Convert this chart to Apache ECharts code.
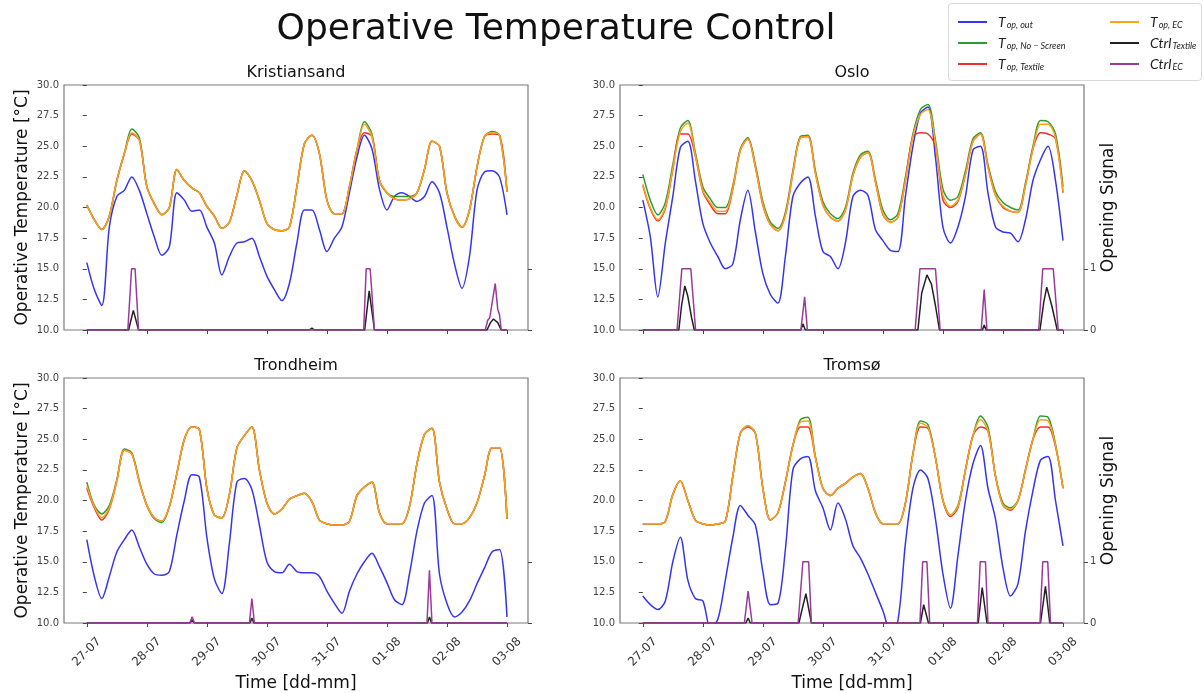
<!DOCTYPE html>
<html>
<head>
<meta charset="utf-8">
<title>Operative Temperature Control</title>
<script src="https://cdn.jsdelivr.net/npm/echarts@6/dist/echarts.min.js"></script>
<style>
	html, body { margin: 0; padding: 0; background: #fff; }
	#chart { width: 1204px; height: 693px; }
</style>
</head>
<body>
<div id="chart"></div>
<script>
// hours after 27-07 00:00, one sample every 3 h
const hours = [0, 3, 6, 9, 12, 15, 18, 21, 24, 27, 30, 33, 36, 39, 42, 45, 48, 51, 54, 57,
	60, 63, 66, 69, 72, 75, 78, 81, 84, 87, 90, 93, 96, 99, 102, 105, 108, 111, 114, 117,
	120, 123, 126, 129, 132, 135, 138, 141, 144, 147, 150, 153, 156, 159, 162, 165, 168];
const dayLabels = ['27-07', '28-07', '29-07', '30-07', '31-07', '01-08', '02-08', '03-08'];
const tempTicks = [10, 30, 2.5];
const signalTicks = [0, 1];

/********** Kristiansand **********/
const outK = [15.5, 13.3, 12.0, 18.4, 20.9, 21.4, 22.5, 21.4,
	19.5, 17.6, 16.1, 16.8, 21.2, 20.6, 19.7, 19.8,
	18.4, 17.1, 14.5, 16.0, 17.1, 17.2, 17.5, 16.0,
	14.4, 13.3, 12.4, 13.8, 17.1, 19.8, 19.8, 18.2,
	16.4, 17.5, 18.4, 21.2, 24.1, 25.9, 24.8, 21.5,
	19.8, 20.9, 21.2, 20.9, 20.5, 20.9, 22.1, 21.2,
	18.4, 15.4, 13.4, 16.0, 21.4, 22.9, 23.0, 22.5,
	19.4];
const noScreenK = [20.2, 19.0, 18.2, 19.3, 22.2, 24.4, 26.4, 25.7,
	21.7, 20.3, 19.4, 20.0, 23.1, 22.2, 21.6, 21.2,
	20.1, 19.3, 18.3, 18.8, 21.0, 23.0, 22.2, 20.6,
	18.7, 18.2, 18.1, 18.4, 21.7, 25.2, 25.9, 24.4,
	20.6, 19.5, 19.5, 21.7, 24.7, 27.0, 26.0, 22.2,
	21.2, 20.9, 20.9, 20.9, 21.2, 23.1, 25.4, 25.0,
	21.2, 19.3, 18.4, 19.8, 23.3, 25.8, 26.2, 25.9,
	21.3];
const textileK = [20.2, 19.0, 18.2, 19.3, 22.2, 24.4, 26.0, 25.5,
	21.7, 20.3, 19.4, 20.0, 23.1, 22.2, 21.6, 21.2,
	20.1, 19.3, 18.3, 18.8, 21.0, 23.0, 22.2, 20.6,
	18.7, 18.2, 18.1, 18.4, 21.7, 25.2, 25.9, 24.4,
	20.6, 19.5, 19.5, 21.7, 24.7, 26.1, 25.8, 22.2,
	21.2, 20.7, 20.6, 20.7, 21.2, 23.1, 25.4, 25.0,
	21.2, 19.3, 18.4, 19.8, 23.3, 25.8, 26.0, 25.9,
	21.3];
const ecK = [20.2, 19.0, 18.2, 19.3, 22.2, 24.4, 26.1, 25.5,
	21.7, 20.3, 19.4, 20.0, 23.1, 22.2, 21.6, 21.2,
	20.1, 19.3, 18.3, 18.8, 21.0, 23.0, 22.2, 20.6,
	18.7, 18.2, 18.1, 18.4, 21.7, 25.2, 25.9, 24.4,
	20.6, 19.5, 19.5, 21.7, 24.7, 26.8, 25.8, 22.2,
	21.2, 20.7, 20.6, 20.7, 21.2, 23.1, 25.4, 25.0,
	21.2, 19.3, 18.4, 19.8, 23.3, 25.8, 26.1, 25.9,
	21.3];
// [hour, signal]
const ctrlTextileK = [[0, 0], [16.7, 0], [18.6, 0.32], [20.7, 0], [89, 0], [90, 0.03], [91, 0],
	[111.1, 0], [112.9, 0.64], [115, 0], [160, 0], [161.4, 0.12], [162.6, 0.18], [164.3, 0.12], [165.7, 0], [168, 0]];
const ctrlEcK = [[0, 0], [16.4, 0], [17.9, 1], [19.3, 1], [20.7, 0], [110.7, 0], [111.7, 1], [113.3, 1], [115, 0],
	[159.3, 0], [160.3, 0.16], [161.1, 0.2], [163.3, 0.76], [164.3, 0.34], [165, 0.25], [165.7, 0], [168, 0]];

/********** Oslo **********/
const outO = [20.6, 17.6, 12.7, 17.1, 20.9, 24.9, 25.4, 22.2,
	18.7, 17.1, 16.0, 15.0, 15.4, 19.0, 21.4, 18.0,
	14.6, 12.9, 12.2, 16.0, 20.9, 22.0, 22.5, 19.3,
	16.4, 16.0, 15.0, 17.1, 20.9, 21.4, 21.0, 18.2,
	17.3, 16.5, 16.4, 20.9, 25.0, 27.7, 28.2, 24.1,
	18.4, 17.1, 18.4, 20.9, 24.7, 25.0, 21.2, 18.4,
	18.0, 17.9, 17.2, 19.0, 22.2, 23.9, 25.0, 22.2,
	17.3];
const noScreenO = [22.7, 20.6, 19.4, 20.4, 23.5, 26.5, 27.1, 24.5,
	21.7, 20.7, 20.0, 20.0, 21.8, 24.8, 25.7, 23.5,
	20.5, 18.8, 18.3, 19.6, 23.0, 25.8, 25.9, 23.0,
	20.5, 19.5, 19.1, 20.0, 22.8, 24.3, 24.6, 22.3,
	19.8, 19.0, 19.5, 22.5, 26.0, 28.0, 28.4, 25.5,
	21.5, 20.6, 20.9, 23.0, 25.6, 26.1, 23.5, 21.3,
	20.4, 20.0, 19.8, 22.0, 25.0, 27.1, 27.0, 26.0,
	21.7];
const textileO = [21.8, 19.9, 18.9, 19.9, 23.1, 26.0, 26.0, 24.2,
	21.3, 20.2, 19.5, 19.5, 21.5, 24.7, 25.6, 23.3,
	20.2, 18.6, 18.1, 19.4, 22.8, 25.7, 25.8, 22.8,
	20.2, 19.2, 18.9, 19.8, 22.6, 24.1, 24.5, 22.1,
	19.4, 18.8, 19.2, 22.2, 25.8, 26.1, 26.0, 25.0,
	20.6, 20.0, 20.5, 22.7, 25.4, 26.0, 23.3, 21.0,
	20.0, 19.7, 19.6, 21.8, 24.8, 26.1, 26.0, 25.6,
	21.2];
const ecO = [21.9, 20.0, 19.0, 20.0, 23.2, 26.2, 26.9, 24.3,
	21.4, 20.4, 19.7, 19.7, 21.6, 24.7, 25.6, 23.3,
	20.3, 18.6, 18.1, 19.4, 22.8, 25.7, 25.8, 22.8,
	20.2, 19.2, 18.9, 19.8, 22.6, 24.1, 24.5, 22.1,
	19.5, 18.8, 19.2, 22.2, 25.8, 27.6, 28.0, 25.2,
	21.0, 20.1, 20.6, 22.7, 25.4, 26.0, 23.3, 21.0,
	20.1, 19.7, 19.6, 21.8, 24.8, 26.8, 26.8, 25.7,
	21.3];
const ctrlTextileO = [[0, 0], [14.4, 0], [15.5, 0.4], [16.8, 0.72], [18, 0.55], [19.5, 0.2], [20.6, 0],
	[63.2, 0], [64, 0.1], [65, 0], [110, 0], [111.5, 0.6], [113.6, 0.9], [115.4, 0.75], [117, 0.4], [118.6, 0],
	[135.8, 0], [136.5, 0.08], [137.3, 0], [158.8, 0], [160.3, 0.45], [161.5, 0.7], [163.5, 0.4], [165.7, 0], [168, 0]];
const ctrlEcO = [[0, 0], [13.7, 0], [15.6, 1], [19.2, 1], [21.1, 0], [63.2, 0], [64.7, 0.54], [65.8, 0],
	[108.9, 0], [110.8, 1], [117, 1], [118.9, 0], [135.3, 0], [136.5, 0.66], [137.6, 0],
	[158.3, 0], [159.9, 1], [164.1, 1], [166.1, 0], [168, 0]];

/********** Trondheim **********/
const outT = [16.8, 13.8, 12.0, 13.8, 15.8, 16.8, 17.6, 16.2,
	14.8, 14.0, 13.9, 14.2, 17.2, 20.0, 22.1, 21.9,
	17.0, 13.6, 12.4, 16.5, 21.5, 21.8, 20.9, 18.0,
	15.0, 14.2, 14.1, 14.8, 14.2, 14.1, 14.1, 13.8,
	12.6, 11.6, 10.8, 12.6, 14.0, 15.0, 15.7, 14.6,
	13.3, 11.9, 11.5, 14.0, 17.5, 19.8, 20.4, 14.0,
	11.6, 10.5, 10.9, 11.8, 13.2, 14.5, 15.8, 16.0,
	10.5];
const noScreenT = [21.5, 19.6, 18.9, 19.6, 21.7, 24.2, 23.9, 21.6,
	19.6, 18.5, 18.2, 19.5, 22.2, 25.0, 26.0, 25.8,
	21.0, 18.8, 18.6, 20.5, 24.3, 25.3, 26.0, 22.5,
	19.8, 18.9, 19.3, 20.1, 20.4, 20.6, 19.9, 18.4,
	18.1, 18.0, 18.0, 18.3, 20.4, 21.1, 21.5, 19.0,
	18.1, 18.1, 18.1, 19.5, 23.0, 25.4, 25.9, 21.5,
	19.3, 18.1, 18.1, 18.6, 19.8, 22.0, 24.3, 24.3,
	18.5];
const textileT = [21.0, 19.4, 18.4, 19.3, 21.6, 24.1, 23.8, 21.5,
	19.6, 18.6, 18.3, 19.5, 22.2, 25.0, 26.0, 25.8,
	21.0, 18.8, 18.6, 20.5, 24.3, 25.3, 26.0, 22.5,
	19.8, 18.9, 19.3, 20.1, 20.4, 20.6, 19.9, 18.4,
	18.1, 18.0, 18.0, 18.3, 20.4, 21.1, 21.5, 19.0,
	18.1, 18.1, 18.1, 19.5, 23.0, 25.4, 25.9, 21.5,
	19.3, 18.1, 18.1, 18.6, 19.8, 22.0, 24.3, 24.3,
	18.5];
const ecT = [21.2, 19.5, 18.6, 19.4, 21.6, 24.1, 23.8, 21.5,
	19.6, 18.6, 18.3, 19.5, 22.2, 25.0, 26.0, 25.8,
	21.0, 18.8, 18.6, 20.5, 24.3, 25.3, 26.0, 22.5,
	19.8, 18.9, 19.3, 20.1, 20.4, 20.6, 19.9, 18.4,
	18.1, 18.0, 18.0, 18.3, 20.4, 21.1, 21.5, 19.0,
	18.1, 18.1, 18.1, 19.5, 23.0, 25.4, 25.9, 21.5,
	19.3, 18.1, 18.1, 18.6, 19.8, 22.0, 24.3, 24.3,
	18.5];
const ctrlTextileT = [[0, 0], [41.2, 0], [42.1, 0.05], [43, 0], [65.2, 0], [66, 0.08], [66.8, 0],
	[136.2, 0], [137, 0.1], [137.8, 0], [168, 0]];
const ctrlEcT = [[0, 0], [41.2, 0], [42.1, 0.1], [43, 0], [65, 0], [66, 0.4], [67, 0],
	[136, 0], [137, 0.86], [138, 0], [168, 0]];

/********** Tromsø **********/
const outTr = [12.2, 11.5, 11.1, 11.8, 15.0, 17.0, 13.5, 12.0,
	11.8, 9.6, 10.3, 13.5, 17.0, 19.6, 18.8, 18.0,
	14.2, 11.5, 11.6, 16.0, 22.5, 23.4, 23.6, 20.8,
	19.4, 17.6, 19.8, 18.5, 16.3, 15.3, 14.0, 12.5,
	11.0, 9.4, 10.2, 16.5, 21.0, 22.5, 21.8, 18.5,
	14.0, 11.2, 15.5, 20.0, 23.0, 24.5, 21.0, 18.5,
	14.5, 12.2, 13.2, 17.5, 20.8, 23.3, 23.6, 20.0,
	16.3];
const noScreenTr = [18.1, 18.1, 18.1, 18.3, 20.5, 21.6, 20.0, 18.4,
	18.1, 18.0, 18.1, 18.3, 22.0, 25.5, 26.1, 25.5,
	21.0, 18.4, 19.0, 21.5, 24.5, 26.6, 26.8, 23.6,
	21.0, 20.4, 21.0, 21.4, 21.9, 22.2, 21.0, 19.0,
	18.1, 18.1, 18.1, 19.8, 23.8, 26.5, 26.2, 23.5,
	20.0, 18.8, 19.6, 22.5, 25.3, 26.9, 26.0, 22.0,
	19.8, 19.4, 20.0, 22.5, 25.0, 26.9, 26.8, 24.6,
	21.0];
const textileTr = [18.1, 18.1, 18.1, 18.3, 20.5, 21.6, 20.0, 18.4,
	18.1, 18.0, 18.1, 18.3, 22.0, 25.5, 26.0, 25.5,
	21.0, 18.4, 19.0, 21.5, 24.5, 26.0, 26.0, 23.5,
	21.0, 20.4, 21.0, 21.4, 21.9, 22.2, 21.0, 19.0,
	18.1, 18.1, 18.1, 19.8, 23.8, 26.0, 25.9, 23.5,
	20.0, 18.7, 19.4, 22.5, 25.3, 26.0, 25.7, 22.0,
	19.6, 19.2, 20.0, 22.5, 25.0, 26.0, 26.0, 24.4,
	21.0];
const ecTr = [18.1, 18.1, 18.1, 18.3, 20.5, 21.6, 20.0, 18.4,
	18.1, 18.0, 18.1, 18.3, 22.0, 25.5, 26.1, 25.5,
	21.0, 18.4, 19.0, 21.5, 24.5, 26.4, 26.5, 23.5,
	21.0, 20.4, 21.0, 21.4, 21.9, 22.2, 21.0, 19.0,
	18.1, 18.1, 18.1, 19.8, 23.8, 26.3, 26.0, 23.5,
	20.0, 18.8, 19.5, 22.5, 25.3, 26.6, 25.7, 22.0,
	19.6, 19.3, 20.0, 22.5, 25.0, 26.6, 26.5, 24.5,
	21.0];
const ctrlTextileTr = [[0, 0], [41.2, 0], [42.1, 0.08], [43, 0], [62.4, 0], [65.2, 0.48], [67.4, 0],
	[111, 0], [112.3, 0.3], [114.2, 0], [134.1, 0], [135.7, 0.58], [137.6, 0], [159, 0], [161, 0.6], [162.7, 0], [168, 0]];
const ctrlEcTr = [[0, 0], [40.6, 0], [42.1, 0.52], [43.7, 0], [62.1, 0], [64, 1], [66.3, 1], [67.4, 0],
	[110.8, 0], [111.9, 1], [113.6, 1], [114.7, 0], [133.8, 0], [134.9, 1], [137, 1], [138, 0],
	[158.8, 0], [159.9, 1], [161.9, 1], [163, 0], [168, 0]];

const cities = ['Kristiansand', 'Oslo', 'Trondheim', 'Tromsø'];
const cityData = [
	[outK, noScreenK, textileK, ecK, ctrlTextileK, ctrlEcK],
	[outO, noScreenO, textileO, ecO, ctrlTextileO, ctrlEcO],
	[outT, noScreenT, textileT, ecT, ctrlTextileT, ctrlEcT],
	[outTr, noScreenTr, textileTr, ecTr, ctrlTextileTr, ctrlEcTr]
];

const seriesNames = ['out', 'noScreen', 'textile', 'ec', 'ctrlTextile', 'ctrlEc'];
const seriesColors = ['#3535ee', '#2f9a2f', '#ee3030', '#f8a51c', '#222222', '#9a3a9a'];
const legendText = {
	out: '{t|T}{s|op, out}',
	noScreen: '{t|T}{s|op, No − Screen}',
	textile: '{t|T}{s|op, Textile}',
	ec: '{t|T}{s|op, EC}',
	ctrlTextile: '{t|Ctrl}{s|Textile}',
	ctrlEc: '{t|Ctrl}{s|EC}'
};

// plot boxes [left, top]
const boxes = [[64, 85], [620, 85], [64, 378], [620, 378]];
const boxW = 464, boxH = 245;

const chart = echarts.init(document.getElementById('chart'));

function toDays(vals) {
	return hours.map((h, i) => [h / 24, vals[i]]);
}
function pairsToDays(pairs) {
	return pairs.map(p => [p[0] / 24, p[1]]);
}

function buildOption() {
	let grids = [], xAxes = [], yAxes = [], series = [], titles = [];
	const axisColor = '#444';
	const tickDays = dayLabels.map((d, i) => i);

	titles.push({
		text: 'Operative Temperature Control',
		left: 556, top: 12, textAlign: 'center', padding: 0,
		textStyle: { fontSize: 36, fontWeight: 'normal', color: '#111', fontFamily: 'DejaVu Sans' }
	});

	cities.forEach((city, i) => {
		const [left, top] = boxes[i];
		const isBottom = i >= 2, isRight = i % 2 === 1;
		grids.push({
			left: left, top: top, width: boxW, height: boxH,
			show: true, borderColor: '#7a7a7a', borderWidth: 1.2, backgroundColor: 'transparent'
		});
		titles.push({
			text: city, left: left + boxW / 2, top: top - 20, textAlign: 'center', padding: 0,
			textStyle: { fontSize: 16, fontWeight: 'normal', color: '#111', fontFamily: 'DejaVu Sans' }
		});
		xAxes.push({
			type: 'value', gridIndex: i, min: -0.38, max: 7.35,
			name: isBottom ? 'Time [dd-mm]' : '',
			nameLocation: 'middle', nameGap: 52,
			nameTextStyle: { fontSize: 17, color: '#111', fontFamily: 'DejaVu Sans' },
			axisLine: { show: false, onZero: false },
			axisTick: { show: true, customValues: tickDays, length: 4, lineStyle: { color: axisColor } },
			axisLabel: {
				show: isBottom, customValues: tickDays, rotate: 45,
				align: 'center', verticalAlign: 'middle', margin: 29,
				fontSize: 12, color: '#333', fontFamily: 'DejaVu Sans',
				formatter: v => dayLabels[Math.round(v)]
			},
			splitLine: { show: false }
		});
		yAxes.push({
			type: 'value', gridIndex: i, position: 'left',
			min: tempTicks[0], max: tempTicks[1], interval: tempTicks[2],
			name: isRight ? '' : 'Operative Temperature [°C]',
			nameLocation: 'middle', nameGap: 33,
			nameTextStyle: { fontSize: 17, color: '#111', fontFamily: 'DejaVu Sans' },
			axisLine: { show: false },
			axisTick: { show: true, length: 4, lineStyle: { color: axisColor } },
			axisLabel: { fontSize: 10, color: '#444', margin: 5, fontFamily: 'DejaVu Sans', formatter: v => v.toFixed(1) },
			splitLine: { show: false }
		});
		yAxes.push({
			type: 'value', gridIndex: i, position: 'right',
			min: 0, max: 4,
			name: isRight ? 'Opening Signal' : '',
			nameLocation: 'middle', nameGap: 16, nameRotate: 90,
			nameTextStyle: { fontSize: 17, color: '#111', fontFamily: 'DejaVu Sans' },
			axisLine: { show: false },
			axisTick: { show: true, customValues: signalTicks, length: 4, lineStyle: { color: axisColor } },
			axisLabel: { show: isRight, customValues: signalTicks, fontSize: 10, color: '#444', margin: 6, fontFamily: 'DejaVu Sans' },
			splitLine: { show: false }
		});

		const d = cityData[i];
		for (let k = 0; k < 6; k++) {
			const isCtrl = k >= 4;
			series.push({
				name: seriesNames[k],
				type: 'line',
				xAxisIndex: i,
				yAxisIndex: isCtrl ? 2 * i + 1 : 2 * i,
				data: isCtrl ? pairsToDays(d[k]) : toDays(d[k]),
				smooth: isCtrl ? false : 0.3,
				showSymbol: false,
				symbol: 'none',
				color: seriesColors[k],
				lineStyle: { width: 1.5, color: seriesColors[k] },
				z: 2 + k
			});
		}
	});

	const rich = {
		t: { fontSize: 14, fontStyle: 'italic', fontFamily: 'Lato', color: '#222', padding: [0, 0, 0, 6] },
		s: { fontSize: 9, fontStyle: 'italic', fontFamily: 'Lato', color: '#222', padding: [7, 0, 0, 1] }
	};
	const legendBase = {
		orient: 'vertical', top: 10, icon: 'rect', itemWidth: 29, itemHeight: 2, itemGap: 6,
		formatter: name => legendText[name],
		textStyle: { rich: rich }
	};

	return {
		animation: false,
		backgroundColor: '#fff',
		title: titles,
		graphic: [{
			type: 'rect', left: 948, top: 3, z: 1,
			shape: { width: 253, height: 77, r: 3 },
			style: { fill: '#fff', stroke: '#d8d8d8', lineWidth: 1 }
		}],
		legend: [
			Object.assign({}, legendBase, { left: 953, data: ['out', 'noScreen', 'textile'] }),
			Object.assign({}, legendBase, { left: 1105, data: ['ec', 'ctrlTextile', 'ctrlEc'] })
		],
		grid: grids,
		xAxis: xAxes,
		yAxis: yAxes,
		series: series
	};
}

chart.setOption(buildOption());
</script>
</body>
</html>
